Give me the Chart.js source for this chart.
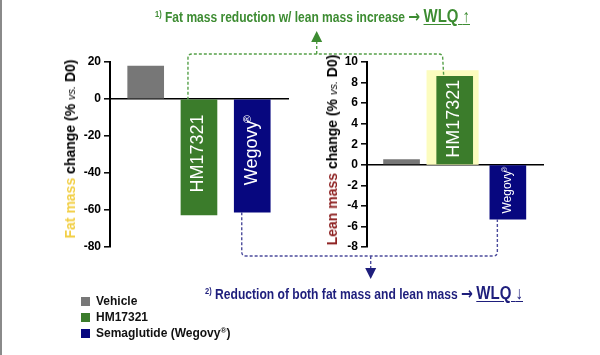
<!DOCTYPE html>
<html><head><meta charset="utf-8">
<script src="https://cdn.jsdelivr.net/npm/chart.js@4"></script>
<style>
html,body{margin:0;padding:0;background:#fff;}
#wrap{position:relative;width:600px;height:355px;overflow:hidden;background:#fff;font-family:"Liberation Sans",Arial,sans-serif;}
canvas{position:absolute;top:0;}
#cA{left:0}
#cB{left:300px}
#ov{left:0;pointer-events:none}
.border{position:absolute;left:0;top:0;width:2px;height:355px;background:#8a8a8a}
.ytitle{position:absolute;white-space:nowrap;font-weight:bold;font-size:14px;color:#000;transform:translate(-50%,-50%) rotate(-90deg);line-height:1}
.vs{font-style:italic;font-weight:normal;font-size:11px}
.note{position:absolute;white-space:nowrap;font-weight:bold;font-size:14.5px;transform-origin:0 0;line-height:1;font-family:"Liberation Sans Narrow","Arial Narrow","Liberation Sans",Arial,sans-serif}
.note sup{font-size:9px;vertical-align:5px}
.arr{font-family:"DejaVu Sans",sans-serif;font-size:17px;font-weight:bold}
.wlq{font-size:18px;text-decoration:underline;text-underline-offset:2px}
.wlq .ud{font-family:"Liberation Sans",Arial,sans-serif;font-weight:normal}
#legend{position:absolute;left:81px;top:293px;font-weight:bold;font-size:12px;color:#111}
.li{height:16px;display:flex;align-items:center;white-space:nowrap}
.sw{width:9px;height:9px;margin-right:6px;flex:none}
#legend sup{font-size:8px;vertical-align:4px}
</style>
</head><body>
<div id="wrap">
  <canvas id="cA" width="300" height="355"></canvas>
  <canvas id="cB" width="300" height="355"></canvas>
  <canvas id="ov" width="600" height="355"></canvas>
  <div class="border"></div>
  <div class="ytitle" style="left:70px;top:149px"><span style="color:#f2cf45">Fat mass</span> change (% <span class="vs">vs.</span> D0)</div>
  <div class="ytitle" style="left:332px;top:150px"><span style="color:#8e2222">Lean mass</span> change (% <span class="vs">vs.</span> D0)</div>
  <div class="note" id="noteTop" style="left:155px;top:7px;color:#3d8c32"><sup>1)</sup> Fat mass reduction w/ lean mass increase <span class="arr">&#8594;</span> <span class="wlq">WLQ <span class="ud">&#8593;</span></span></div>
  <div class="note" id="noteBot" style="left:205px;top:284px;color:#1e1e7c"><sup>2)</sup> Reduction of both fat mass and lean mass <span class="arr">&#8594;</span> <span class="wlq">WLQ <span class="ud">&#8595;</span></span></div>
  <div id="legend"></div>
</div>
<script>
// ---- data ----
const categories = ['Vehicle', 'HM17321', 'Semaglutide (Wegovy®)'];
const fatMassChange = [17.8, -62.7, -61.2];
const leanMassChange = [0.5, 8.6, -5.3];
const fatTicks = [20, 0, -20, -40, -60, -80];
const leanTicks = [10, 8, 6, 4, 2, 0, -2, -4, -6, -8];
const barColors = ['#777777', '#3b7c2b', '#07077f'];
const fatBarLabels = [null, {text:'HM17321'}, {text:'Wegovy', sup:'®'}];
const leanBarLabels = [null, {text:'HM17321'}, {text:'Wegovy', sup:'®'}];

const FONT = '"Liberation Sans", Arial, sans-serif';

// legend
const lg = document.getElementById('legend');
categories.forEach((c, i) => {
  const d = document.createElement('div'); d.className = 'li';
  const s = document.createElement('span'); s.className = 'sw'; s.style.background = barColors[i];
  const t = document.createElement('span');
  t.innerHTML = c.replace('®', '<sup>®</sup>');
  d.appendChild(s); d.appendChild(t); lg.appendChild(d);
});

// fit notes to their widths
function fitNote(id, target){
  const el = document.getElementById(id);
  const w = el.getBoundingClientRect().width;
  el.style.transform = 'scaleX(' + (target / w) + ')';
}
fitNote('noteTop', 315);
fitNote('noteBot', 318);

const barText = {
  id: 'barText',
  afterDatasetsDraw(chart, args, opts) {
    const ctx = chart.ctx;
    const meta = chart.getDatasetMeta(0);
    const zeroY = chart.scales.y.getPixelForValue(0);
    (opts.items || []).forEach((it, i) => {
      if (!it) return;
      const lab = opts.labels[i];
      if (!lab) return;
      const bar = meta.data[i];
      ctx.save();
      ctx.translate(bar.x + (it.dx || 0), zeroY + it.dy);
      ctx.rotate(-Math.PI / 2);
      ctx.fillStyle = '#fff';
      ctx.textBaseline = 'middle';
      ctx.textAlign = 'left';
      const mainF = it.size + 'px ' + FONT;
      const supF = (it.size * 0.6) + 'px ' + FONT;
      ctx.font = mainF;
      const mw = ctx.measureText(lab.text).width - it.size * 0.14;
      let sw = 0;
      if (lab.sup) { ctx.font = supF; sw = ctx.measureText(lab.sup).width; }
      const total = mw + sw;
      const x0 = it.align === 'end' ? -total : 0;
      ctx.font = mainF;
      ctx.fillText(lab.text, x0, 0);
      if (lab.sup) { ctx.font = supF; ctx.fillText(lab.sup, x0 + mw, -it.size * 0.24); }
      ctx.restore();
    });
  }
};

const highlight = {
  id: 'highlight',
  beforeDatasetsDraw(chart, args, opts) {
    if (!opts.range) return;
    const xs = chart.scales.x, ys = chart.scales.y;
    const ctx = chart.ctx;
    const x1 = xs.getPixelForValue(opts.range[0]), x2 = xs.getPixelForValue(opts.range[1]);
    const y1 = ys.getPixelForValue(opts.top), y2 = ys.getPixelForValue(0);
    ctx.save();
    ctx.fillStyle = opts.color;
    ctx.fillRect(x1, y1, x2 - x1, y2 - y1);
    ctx.restore();
  }
};

function yScale(ticksArr, width) {
  return {
    min: Math.min(...ticksArr), max: Math.max(...ticksArr),
    z: 1,
    ticks: { stepSize: ticksArr[0] - ticksArr[1], color: '#000', padding: 3,
      font: { family: FONT, size: 12, weight: 'bold' } },
    grid: { color: c => (c.tick && c.tick.value === 0) ? '#000' : 'rgba(0,0,0,0)',
      lineWidth: 1.6, tickColor: '#000', tickLength: 6, tickWidth: 1.5 },
    border: { display: true, color: '#000', width: 2 },
    afterFit(s) { s.width = width; }
  };
}

function makeChart(id, values, ticksArr, yWidth, pad, xr, labels, items, hl) {
  return new Chart(document.getElementById(id), {
    type: 'bar',
    data: { datasets: [{
      data: categories.map((c, i) => ({ x: i, y: values[i] })),
      backgroundColor: barColors, borderWidth: 0, barThickness: 36
    }] },
    options: {
      responsive: false, animation: false, devicePixelRatio: 1,
      layout: { padding: pad },
      plugins: { legend: { display: false }, tooltip: { enabled: false },
        barText: { labels: labels, items: items }, highlight: hl || {} },
      scales: {
        x: { type: 'linear', min: xr[0], max: xr[1], offset: false, display: false },
        y: yScale(ticksArr, yWidth)
      }
    },
    plugins: [highlight, barText]
  });
}

const chartA = makeChart('cA', fatMassChange, fatTicks, 110,
  { left: 0, top: 62, right: 11, bottom: 108 }, [-0.67, 2.69], fatBarLabels,
  [null, { size: 18, align: 'end', dy: 18, dx: -1 }, { size: 18, align: 'end', dy: 16, dx: 0 }]);

const chartB = makeChart('cB', leanMassChange, leanTicks, 67,
  { left: 0, top: 62, right: 56, bottom: 108 }, [-0.65, 2.68], leanBarLabels,
  [null, { size: 18, align: 'start', dy: -7, dx: -1 }, { size: 12, align: 'end', dy: 2, dx: 0 }],
  { range: [0.47, 1.45], top: 9.2, color: '#fcfcbf' });

// connectors
(function () {
  const ctx = document.getElementById('ov').getContext('2d');
  const a = chartA.getDatasetMeta(0).data, b = chartB.getDatasetMeta(0).data;
  const offB = 300, r = 4;
  ctx.lineWidth = 1.4;
  ctx.setLineDash([3, 2]);
  // green
  const gx1 = a[1].x - a[1].width / 2 + 7, gy1 = Math.min(a[1].y, a[1].base);
  const gx2 = offB + b[1].x - b[1].width / 2 + 6, gy2 = Math.min(b[1].y, b[1].base);
  const gy = 54;
  ctx.strokeStyle = '#55a048';
  ctx.beginPath();
  ctx.moveTo(gx1, gy1); ctx.lineTo(gx1, gy + r);
  ctx.quadraticCurveTo(gx1, gy, gx1 + r, gy);
  ctx.lineTo(gx2 - r, gy);
  ctx.quadraticCurveTo(gx2, gy, gx2, gy + r);
  ctx.lineTo(gx2 + 1, gy2);
  ctx.moveTo(316.7, gy); ctx.lineTo(316.7, 42);
  ctx.stroke();
  // blue
  const bx1 = a[2].x - a[2].width / 2 + 7.5, by1 = Math.max(a[2].y, a[2].base);
  const bx2 = offB + b[2].x - b[2].width / 2 + 7.5, by2 = Math.max(b[2].y, b[2].base);
  const by = 256;
  ctx.strokeStyle = '#4b4b9c';
  ctx.beginPath();
  ctx.moveTo(bx1, by1); ctx.lineTo(bx1, by - r);
  ctx.quadraticCurveTo(bx1, by, bx1 + r, by);
  ctx.lineTo(bx2 - r, by);
  ctx.quadraticCurveTo(bx2, by, bx2, by - r);
  ctx.lineTo(bx2, by2);
  ctx.moveTo(370.7, by); ctx.lineTo(370.7, 268);
  ctx.stroke();
  ctx.setLineDash([]);
  // arrow heads
  ctx.fillStyle = '#3d8c32';
  ctx.beginPath(); ctx.moveTo(311.2, 42); ctx.lineTo(322.2, 42); ctx.lineTo(316.7, 31); ctx.closePath(); ctx.fill();
  ctx.fillStyle = '#1e1e7c';
  ctx.beginPath(); ctx.moveTo(365.2, 268); ctx.lineTo(376.2, 268); ctx.lineTo(370.7, 279); ctx.closePath(); ctx.fill();
})();
</script>
</body></html>
